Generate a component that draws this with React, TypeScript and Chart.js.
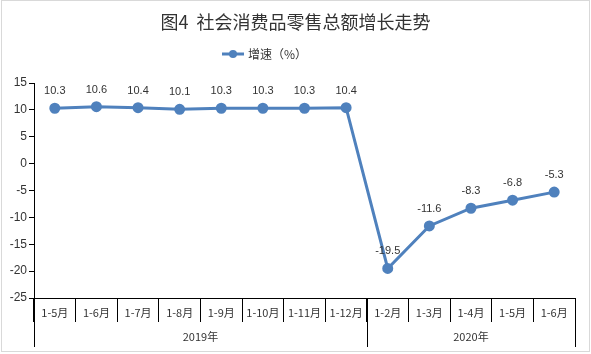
import React, { useEffect, useRef } from "react";
import { Chart, registerables } from "chart.js";

Chart.register(...registerables);

const title = "图4  社会消费品零售总额增长走势";
const seriesName = "增速（%）";
const categories = ["1-5月", "1-6月", "1-7月", "1-8月", "1-9月", "1-10月", "1-11月", "1-12月", "1-2月", "1-3月", "1-4月", "1-5月", "1-6月"];
const growth = [10.3, 10.6, 10.4, 10.1, 10.3, 10.3, 10.3, 10.4, -19.5, -11.6, -8.3, -6.8, -5.3];
const yearGroups = ["2019年", "2020年"];
const yearCounts = [8, 5];
const yMin = -25;
const yMax = 15;
const yStep = 5;

const FONT = '"Liberation Sans", "Noto Sans CJK SC", sans-serif';
const CJK = '"Noto Sans CJK SC", "Liberation Sans", sans-serif';
const BLUE = "#4f81bd";
const TEXT = "#333333";

const decorPlugin = {
  id: "decor",
  afterDraw(chart: any) {
    const ctx = chart.ctx;
    const xs = chart.scales.x;
    const area = chart.chartArea;
    ctx.save();
    // outer border
    ctx.strokeStyle = "#d9d9d9";
    ctx.lineWidth = 1;
    ctx.strokeRect(1.5, 0.5, 588, 351);
    // title
    ctx.fillStyle = "#333333";
    ctx.font = `18px ${CJK}`;
    ctx.textAlign = "center";
    ctx.textBaseline = "middle";
    ctx.fillText(title, chart.width / 2, 22);
    // legend
    const lx = 222, ly = 54;
    ctx.strokeStyle = BLUE;
    ctx.lineWidth = 3;
    ctx.beginPath();
    ctx.moveTo(lx, ly);
    ctx.lineTo(lx + 22, ly);
    ctx.stroke();
    ctx.fillStyle = BLUE;
    ctx.beginPath();
    ctx.arc(lx + 11, ly, 4, 0, Math.PI * 2);
    ctx.fill();
    ctx.fillStyle = TEXT;
    ctx.font = `12px ${CJK}`;
    ctx.textAlign = "left";
    ctx.fillText(seriesName, lx + 26, ly);
    // group separators and labels
    const step = (area.right - area.left) / categories.length;
    ctx.strokeStyle = "#000";
    ctx.lineWidth = 1;
    let idx = 0;
    const bounds: number[] = [area.left];
    yearCounts.forEach((c) => {
      idx += c;
      bounds.push(xs.getPixelForValue(idx - 1) + step / 2);
    });
    bounds.forEach((b) => {
      const x = Math.round(b) + 0.5;
      ctx.beginPath();
      ctx.moveTo(x, area.bottom);
      ctx.lineTo(x, 347);
      ctx.stroke();
    });
    ctx.fillStyle = TEXT;
    ctx.font = `11px ${CJK}`;
    ctx.textAlign = "center";
    yearGroups.forEach((g, i) => {
      ctx.fillText(g, (bounds[i] + bounds[i + 1]) / 2, 337);
    });
    ctx.restore();
  },
  afterDatasetsDraw(chart: any) {
    const ctx = chart.ctx;
    const meta = chart.getDatasetMeta(0);
    ctx.save();
    ctx.fillStyle = TEXT;
    ctx.font = `11px ${FONT}`;
    ctx.textAlign = "center";
    ctx.textBaseline = "middle";
    meta.data.forEach((pt: any, i: number) => {
      ctx.fillText(growth[i].toFixed(1), pt.x, pt.y - 17);
    });
    ctx.restore();
  },
};

export default function App() {
  const ref = useRef<HTMLCanvasElement>(null);
  useEffect(() => {
    document.body.style.margin = "0";
    const chart = new Chart(ref.current!, {
      type: "line",
      data: {
        labels: categories,
        datasets: [
          {
            label: seriesName,
            data: growth,
            borderColor: BLUE,
            backgroundColor: BLUE,
            borderWidth: 3,
            pointRadius: 4,
            pointBackgroundColor: BLUE,
            pointBorderColor: BLUE,
            tension: 0,
          },
        ],
      },
      options: {
        animation: false,
        responsive: false,
        layout: { padding: { left: 0, right: 16, top: 83, bottom: 6 } },
        plugins: {
          legend: { display: false },
          title: { display: false },
          tooltip: { enabled: false },
        },
        scales: {
          x: {
            offset: true,
            grid: {
              offset: true,
              drawOnChartArea: false,
              tickLength: 24,
              color: "#000",
            },
            border: { color: "#000", width: 1 },
            ticks: {
              color: TEXT,
              font: { size: 11, family: CJK },
              padding: -16,
              maxRotation: 0,
              autoSkip: false,
            },
            afterFit: (s: any) => {
              s.height = 50;
            },
          },
          y: {
            min: yMin,
            max: yMax,
            grid: { drawOnChartArea: false, tickLength: 5, color: "#000" },
            border: { color: "#000", width: 1 },
            ticks: {
              stepSize: yStep,
              color: TEXT,
              font: { size: 12, family: FONT },
              padding: 2,
            },
            afterFit: (s: any) => {
              s.width = 34;
            },
          },
        },
      },
      plugins: [decorPlugin],
    });
    return () => chart.destroy();
  }, []);
  return (
    <div style={{ width: 591, height: 354, background: "#fff" }}>
      <canvas ref={ref} width={591} height={354} />
    </div>
  );
}
